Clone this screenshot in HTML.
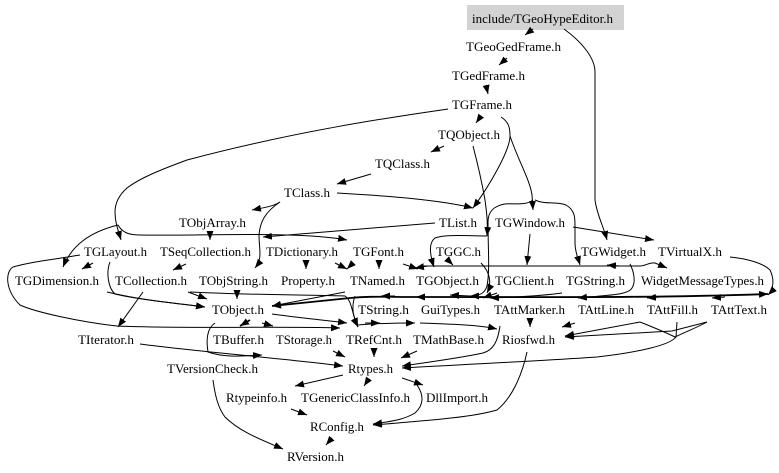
<!DOCTYPE html>
<html><head><meta charset="utf-8"><style>
html,body{margin:0;padding:0;background:#fff}
svg{display:block}
text{font-family:"Liberation Serif",serif;font-size:13px;fill:#000}
path{fill:none;stroke:#000;stroke-width:1}
.b{stroke-width:1.8}
</style></head><body>
<svg width="779" height="473" viewBox="0 0 779 473" xmlns="http://www.w3.org/2000/svg">
<defs><marker id="a" markerUnits="userSpaceOnUse" markerWidth="10" markerHeight="8" refX="9" refY="3.5" orient="auto"><polygon points="0,0 9,3.5 0,7" fill="#000"/></marker></defs>
<rect x="467" y="5" width="157" height="25" fill="#d3d3d3"/>
<g>
<path d="M640,322C650,326 665,332 675,337C690,330 700,326 707,322"/>
<path class="b" d="M350,298C370,296 385,297 420,297"/>
</g>
<g marker-end="url(#a)">
<path d="M533,29L525,35"/>
<path d="M564,29C582,42 595,58 595,72L595,200C597,215 603,225 607,240"/>
<path d="M507,58L499,65"/>
<path d="M486,85L488,94"/>
<path d="M481,116L476,123"/>
<path d="M444,146L431,152"/>
<path d="M371,174L337,184"/>
<path d="M448,109C400,116 300,130 187,160C160,170 140,178 127,188C118,196 115,204 115,212C115,222 118,230 121,240"/>
<path d="M118,225C90,232 72,245 63,267"/>
<path d="M118,225C122,232 128,235 140,235C200,236 300,231 347,240"/>
<path d="M501,117C509,122 510,128 510,136C510,150 490,185 473,208"/>
<path d="M510,136C518,160 530,180 532,195L533,210"/>
<path d="M533,200C525,206 515,203 505,204C493,206 488,212 488,222C488,250 490,270 487,286C485,293 480,296 470,296"/>
<path d="M535,200C545,205 556,201 566,205C575,210 575,218 575,225L575,243C575,252 578,258 580,265"/>
<path d="M473,146C478,165 482,183 485,200C487,215 488,225 487,236"/>
<path d="M337,193C390,196 440,200 473,208"/>
<path d="M280,202C272,207 262,208 252,210"/>
<path d="M280,202C265,212 260,222 259,235C259,250 263,258 255,268"/>
<path d="M435,223C380,228 320,232 263,237"/>
<path d="M210,235L210,240"/>
<path d="M186,264L173,270"/>
<path d="M80,255C50,260 30,262 13,267C5,272 5,290 20,305C35,312 80,322 117,326C180,329 270,326 340,328"/>
<path d="M93,263L82,269"/>
<path d="M110,262C106,272 108,288 115,294C140,300 175,303 205,307"/>
<path d="M107,292C140,300 175,303 205,307"/>
<path d="M143,292L118,327"/>
<path d="M188,292L207,299"/>
<path d="M237,292L237,299"/>
<path d="M190,292C250,295 320,295 345,296C352,300 352,315 358,327"/>
<path d="M306,262L306,269"/>
<path d="M335,263L347,269"/>
<path d="M353,263L347,269"/>
<path d="M379,262L379,269"/>
<path d="M403,264L418,269"/>
<path d="M345,292L272,306"/>
<path class="b" d="M350,298L272,306"/>
<path d="M487,236C470,236 445,234 435,238C428,243 430,255 434,267"/>
<path d="M450,262L453,265"/>
<path d="M428,266L415,268"/>
<path d="M530,234L527,265"/>
<path d="M573,227L654,240"/>
<path d="M420,266L640,266C645,266 650,262 655,263L667,268"/>
<path d="M620,266L607,265"/>
<path d="M730,257C750,259 764,264 770,270C775,280 773,290 768,295"/>
<path class="b" d="M420,297C550,297 660,298 768,294"/>
<path d="M630,264C634,272 636,282 632,288C628,295 610,295 578,298"/>
<path d="M660,297L647,298"/>
<path d="M725,297L712,298"/>
<path d="M470,296L450,295"/>
<path d="M430,297L416,297"/>
<path d="M395,296L381,296"/>
<path d="M562,293C540,296 515,297 490,298"/>
<path d="M497,293L483,298"/>
<path d="M481,263C490,272 492,283 487,293"/>
<path d="M355,296C350,310 355,320 358,327"/>
<path d="M272,314C300,318 325,320 347,323"/>
<path d="M262,323L273,326"/>
<path class="b" d="M250,320L240,326"/>
<path d="M358,325C380,323 400,323 415,323"/>
<path d="M365,323L380,323"/>
<path d="M420,323C450,324 480,325 497,329"/>
<path d="M500,326C498,340 494,350 483,353C460,358 430,362 402,366"/>
<path d="M530,322L530,327"/>
<path d="M575,323L562,327"/>
<path d="M640,322L565,336"/>
<path d="M707,322L672,331L565,337"/>
<path d="M677,322L676,337C670,345 640,352 597,357C540,361 470,364 402,368"/>
<path d="M215,323C207,328 206,340 208,352C225,358 245,356 262,355"/>
<path d="M140,344C200,352 280,358 343,366"/>
<path d="M333,351L345,357"/>
<path d="M374,350L374,357"/>
<path d="M417,351L401,358"/>
<path d="M343,375L295,386"/>
<path d="M368,380L364,386"/>
<path d="M402,378L423,385"/>
<path d="M417,385C424,395 424,405 415,413C405,419 395,421 373,424"/>
<path d="M527,352C522,375 512,398 497,410C470,418 420,421 373,425"/>
<path d="M291,409L307,415"/>
<path d="M332,438L326,445"/>
<path d="M213,380C215,395 218,408 225,417C240,432 262,440 283,449"/>
</g>
<g>
<text x="472" y="23" textLength="141" lengthAdjust="spacingAndGlyphs">include/TGeoHypeEditor.h</text>
<text x="466" y="51" textLength="95" lengthAdjust="spacingAndGlyphs">TGeoGedFrame.h</text>
<text x="452" y="80" textLength="73" lengthAdjust="spacingAndGlyphs">TGedFrame.h</text>
<text x="452" y="109" textLength="60" lengthAdjust="spacingAndGlyphs">TGFrame.h</text>
<text x="438" y="139" textLength="62" lengthAdjust="spacingAndGlyphs">TQObject.h</text>
<text x="375" y="168" textLength="55" lengthAdjust="spacingAndGlyphs">TQClass.h</text>
<text x="284" y="197" textLength="46" lengthAdjust="spacingAndGlyphs">TClass.h</text>
<text x="179" y="227" textLength="67" lengthAdjust="spacingAndGlyphs">TObjArray.h</text>
<text x="439" y="227" textLength="38" lengthAdjust="spacingAndGlyphs">TList.h</text>
<text x="495" y="227" textLength="70" lengthAdjust="spacingAndGlyphs">TGWindow.h</text>
<text x="84" y="256" textLength="63" lengthAdjust="spacingAndGlyphs">TGLayout.h</text>
<text x="160" y="256" textLength="91" lengthAdjust="spacingAndGlyphs">TSeqCollection.h</text>
<text x="266" y="256" textLength="72" lengthAdjust="spacingAndGlyphs">TDictionary.h</text>
<text x="353" y="256" textLength="51" lengthAdjust="spacingAndGlyphs">TGFont.h</text>
<text x="436" y="256" textLength="45" lengthAdjust="spacingAndGlyphs">TGGC.h</text>
<text x="581" y="256" textLength="65" lengthAdjust="spacingAndGlyphs">TGWidget.h</text>
<text x="658" y="256" textLength="64" lengthAdjust="spacingAndGlyphs">TVirtualX.h</text>
<text x="15" y="285" textLength="84" lengthAdjust="spacingAndGlyphs">TGDimension.h</text>
<text x="115" y="285" textLength="72" lengthAdjust="spacingAndGlyphs">TCollection.h</text>
<text x="199" y="285" textLength="69" lengthAdjust="spacingAndGlyphs">TObjString.h</text>
<text x="281" y="285" textLength="54" lengthAdjust="spacingAndGlyphs">Property.h</text>
<text x="350" y="285" textLength="55" lengthAdjust="spacingAndGlyphs">TNamed.h</text>
<text x="416" y="285" textLength="63" lengthAdjust="spacingAndGlyphs">TGObject.h</text>
<text x="495" y="285" textLength="59" lengthAdjust="spacingAndGlyphs">TGClient.h</text>
<text x="566" y="285" textLength="59" lengthAdjust="spacingAndGlyphs">TGString.h</text>
<text x="641" y="285" textLength="123" lengthAdjust="spacingAndGlyphs">WidgetMessageTypes.h</text>
<text x="212" y="314" textLength="52" lengthAdjust="spacingAndGlyphs">TObject.h</text>
<text x="358" y="314" textLength="51" lengthAdjust="spacingAndGlyphs">TString.h</text>
<text x="421" y="314" textLength="59" lengthAdjust="spacingAndGlyphs">GuiTypes.h</text>
<text x="494" y="314" textLength="71" lengthAdjust="spacingAndGlyphs">TAttMarker.h</text>
<text x="578" y="314" textLength="56" lengthAdjust="spacingAndGlyphs">TAttLine.h</text>
<text x="647" y="314" textLength="51" lengthAdjust="spacingAndGlyphs">TAttFill.h</text>
<text x="711" y="314" textLength="56" lengthAdjust="spacingAndGlyphs">TAttText.h</text>
<text x="78" y="344" textLength="56" lengthAdjust="spacingAndGlyphs">TIterator.h</text>
<text x="213" y="344" textLength="51" lengthAdjust="spacingAndGlyphs">TBuffer.h</text>
<text x="276" y="344" textLength="56" lengthAdjust="spacingAndGlyphs">TStorage.h</text>
<text x="346" y="344" textLength="56" lengthAdjust="spacingAndGlyphs">TRefCnt.h</text>
<text x="413" y="344" textLength="71" lengthAdjust="spacingAndGlyphs">TMathBase.h</text>
<text x="502" y="344" textLength="53" lengthAdjust="spacingAndGlyphs">Riosfwd.h</text>
<text x="167" y="373" textLength="91" lengthAdjust="spacingAndGlyphs">TVersionCheck.h</text>
<text x="348" y="373" textLength="45" lengthAdjust="spacingAndGlyphs">Rtypes.h</text>
<text x="226" y="402" textLength="61" lengthAdjust="spacingAndGlyphs">Rtypeinfo.h</text>
<text x="301" y="402" textLength="109" lengthAdjust="spacingAndGlyphs">TGenericClassInfo.h</text>
<text x="426" y="402" textLength="62" lengthAdjust="spacingAndGlyphs">DllImport.h</text>
<text x="310" y="431" textLength="54" lengthAdjust="spacingAndGlyphs">RConfig.h</text>
<text x="287" y="461" textLength="57" lengthAdjust="spacingAndGlyphs">RVersion.h</text>
</g>
</svg>
</body></html>
